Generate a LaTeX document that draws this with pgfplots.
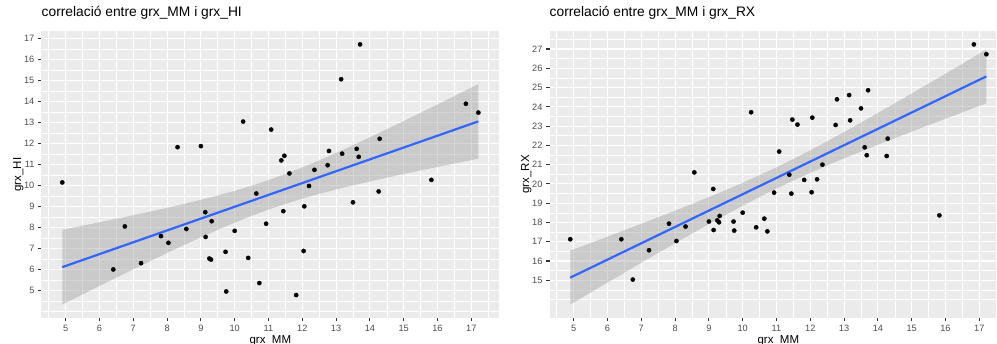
\documentclass[border=0pt]{standalone}
\usepackage{fontspec}
\setmainfont{Liberation Sans}
\usepackage{pgfplots}
\usepackage{pgfplotstable}
\pgfplotsset{compat=1.18}
\definecolor{ggbg}{HTML}{EBEBEB}
\definecolor{ggtick}{HTML}{333333}
\definecolor{gglab}{HTML}{4D4D4D}
\definecolor{ggblue}{HTML}{3366FF}
\definecolor{ggrib}{HTML}{999999}

\pgfplotstableread{
x hi rx
4.90 10.15 17.13
6.41 6.00 17.13
6.75 8.05 15.04
7.23 6.30 16.56
7.82 7.59 17.94
8.04 7.27 17.04
8.31 11.83 17.79
8.57 7.93 20.60
9.00 11.88 18.05
9.13 8.73 19.74
9.14 7.55 17.61
9.25 6.52 18.11
9.30 6.47 18.01
9.32 8.30 18.34
9.73 6.84 18.05
9.75 4.95 17.58
10.00 7.84 18.51
10.25 13.05 23.72
10.40 6.55 17.75
10.64 9.62 18.20
10.73 5.35 17.54
10.93 8.18 19.55
11.08 12.67 21.68
11.38 11.20 20.48
11.44 8.78 19.50
11.47 11.42 23.34
11.62 10.58 23.08
11.82 4.78 20.21
12.04 6.88 19.57
12.06 9.01 23.44
12.20 9.98 20.24
12.36 10.75 21.00
12.75 10.97 23.06
12.79 11.65 24.39
13.15 15.07 24.61
13.18 11.52 23.30
13.50 9.20 23.92
13.61 11.75 21.90
13.67 11.37 21.49
13.71 16.73 24.86
14.26 9.72 21.45
14.29 12.23 22.35
15.82 10.27 18.37
16.84 13.90 27.24
17.21 13.48 26.73
}\pts

\pgfplotsset{
 ggaxis/.style={
  scale only axis, width=457.7pt, height=286.2pt,
  anchor=south west,
  xmin=4.285, xmax=17.826,
  axis background/.style={fill=ggbg},
  axis line style={draw=none},
  xtick={5,...,17},
  minor xtick={4.5,5.5,...,17.5},
  grid=both,
  major grid style={draw=white, line width=1.1pt},
  minor grid style={draw=white, line width=0.55pt},
  tick align=outside,
  tick pos=left,
  major tick length=3.6pt, minor tick length=0pt,
  tick style={draw=ggtick, line width=1.1pt},
  tick label style={font=\fontsize{9.2}{11}\selectfont, text=gglab},
  /pgf/number format/assume math mode=true,
  xlabel={grx\_MM},
  label style={font=\fontsize{11.5}{13}\selectfont, text=black},
  xlabel style={at={(axis description cs:0.5,-0.0608)}, anchor=north, inner sep=0pt},
  ylabel style={at={(axis description cs:-0.0505,0.5)}, anchor=center, inner sep=0pt},
  title style={at={(axis description cs:0,1.0328)}, anchor=base west, inner sep=0pt, font=\fontsize{13.8}{16}\selectfont},
  ggpts/.style={only marks, mark=*, mark size=2.1pt, mark options={draw=black, fill=black, line width=0.4pt}},
 }
}

\begin{document}
\begin{tikzpicture}
\path[use as bounding box] (0pt,0pt) rectangle (997pt,344pt);
\clip (0pt,0pt) rectangle (997pt,344pt);

\begin{axis}[ggaxis, at={(41.5pt,26.4pt)},
  ymin=3.705, ymax=17.35,
  ytick={5,...,17},
  minor ytick={4,4.5,5.5,...,16.5},
  title={correlació entre grx\_MM i grx\_HI},
  ylabel={grx\_HI}]
\addplot[ggpts] table[x=x,y=hi]{\pts};
\addplot[draw=none, fill=ggrib, fill opacity=0.4] coordinates {
(4.9,7.895)(5.5,8.088)(6,8.251)(6.5,8.416)(7,8.586)(7.5,8.759)(8,8.937)(8.5,9.123)(9,9.318)(9.5,9.524)(10,9.749)(10.5,9.991)(11,10.258)(11.5,10.551)(12,10.866)(12.5,11.202)(13,11.555)(13.5,11.923)(14,12.300)(14.5,12.684)(15,13.075)(15.5,13.469)(16,13.867)(16.5,14.269)(17,14.671)(17.21,14.840)
(17.21,11.280)(17,11.213)(16.5,11.051)(16,10.887)(15.5,10.721)(15,10.551)(14.5,10.376)(14,10.196)(13.5,10.009)(13,9.811)(12.5,9.600)(12,9.372)(11.5,9.123)(11,8.850)(10.5,8.553)(10,8.231)(9.5,7.890)(9,7.532)(8.5,7.163)(8,6.783)(7.5,6.397)(7,6.006)(6.5,5.610)(6,5.211)(5.5,4.810)(4.9,4.325)
} -- cycle;
\addplot[ggblue, line width=2.2pt] coordinates {(4.9,6.11) (17.21,13.06)};
\end{axis}

\begin{axis}[ggaxis, at={(549.5pt,26.4pt)},
  ymin=13.066, ymax=27.915,
  ytick={15,...,27},
  minor ytick={14,14.5,15.5,...,27.5},
  title={correlació entre grx\_MM i grx\_RX},
  ylabel={grx\_RX}]
\addplot[ggpts] table[x=x,y=rx]{\pts};
\addplot[draw=none, fill=ggrib, fill opacity=0.4] coordinates {
(4.9,16.539)(5.5,16.934)(6,17.265)(6.5,17.597)(7,17.932)(7.5,18.271)(8,18.614)(8.5,18.961)(9,19.317)(9.5,19.682)(10,20.060)(10.5,20.453)(11,20.865)(11.5,21.297)(12,21.747)(12.5,22.213)(13,22.693)(13.5,23.183)(14,23.682)(14.5,24.186)(15,24.694)(15.5,25.207)(16,25.722)(16.5,26.238)(17,26.757)(17.21,26.975)
(17.21,24.183)(17,24.045)(16.5,23.716)(16,23.384)(15.5,23.051)(15,22.716)(14.5,22.376)(14,22.032)(13.5,21.683)(13,21.325)(12.5,20.957)(12,20.575)(11.5,20.177)(11,19.761)(10.5,19.325)(10,18.870)(9.5,18.400)(9,17.917)(8.5,17.425)(8,16.924)(7.5,16.419)(7,15.910)(6.5,15.397)(6,14.881)(5.5,14.364)(4.9,13.741)
} -- cycle;
\addplot[ggblue, line width=2.2pt] coordinates {(4.9,15.14) (17.21,25.58)};
\end{axis}
\end{tikzpicture}
\end{document}
